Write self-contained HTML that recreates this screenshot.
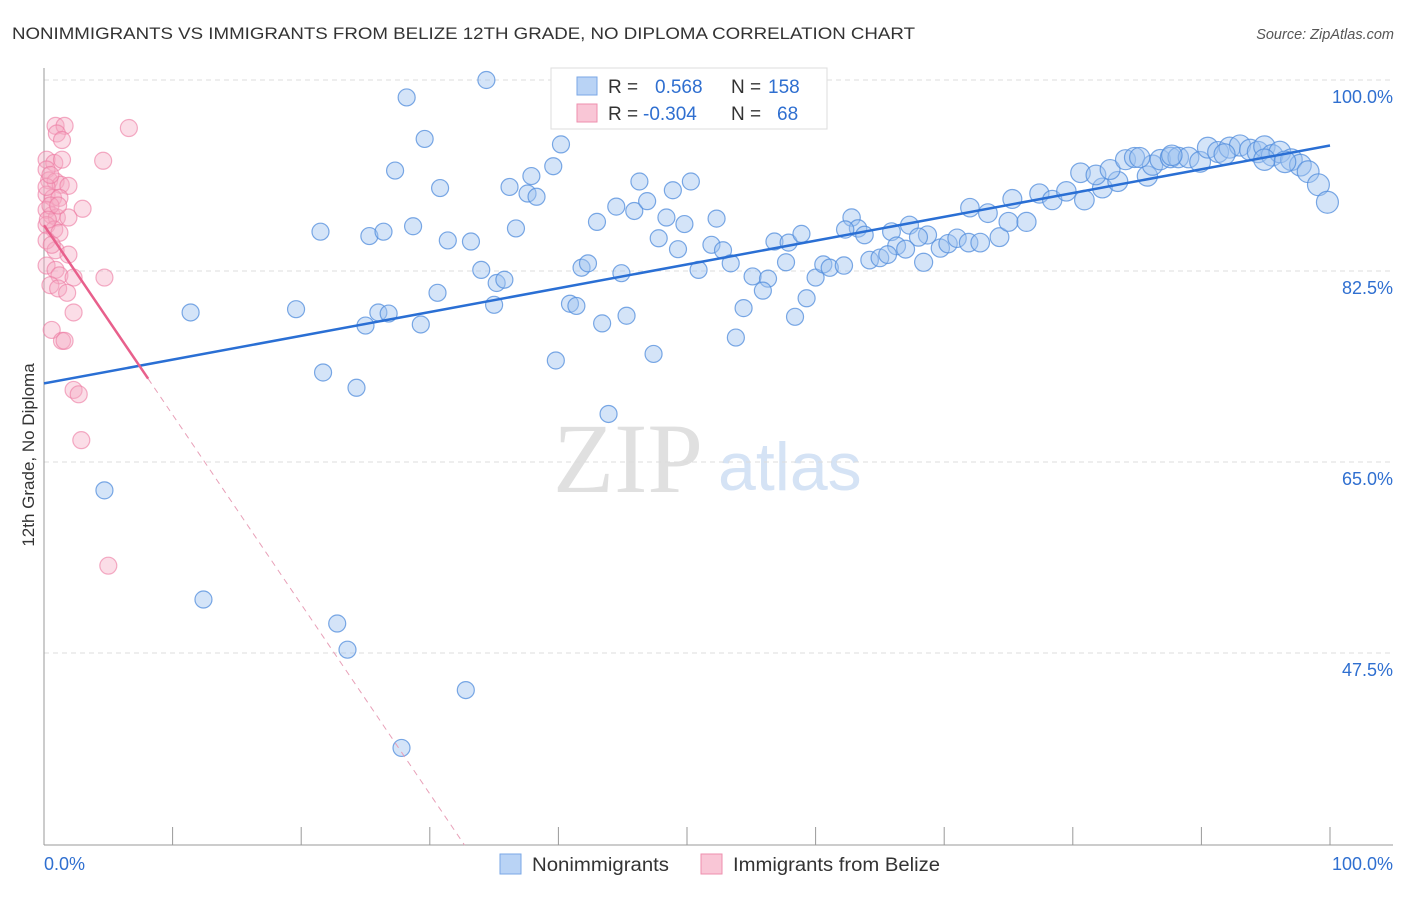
<!DOCTYPE html>
<html><head><meta charset="utf-8">
<style>
body{margin:0;background:#fff;font-family:"Liberation Sans",sans-serif;}
</style></head>
<body>
<svg id="chart" width="1406" height="892" viewBox="0 0 1406 892" font-family="Liberation Sans, sans-serif">
<text x="12" y="39" font-size="17" fill="#333" textLength="903" lengthAdjust="spacingAndGlyphs">NONIMMIGRANTS VS IMMIGRANTS FROM BELIZE 12TH GRADE, NO DIPLOMA CORRELATION CHART</text>
<text x="1394" y="39" font-size="14.5" fill="#555" font-style="italic" text-anchor="end">Source: ZipAtlas.com</text>
<text x="0" y="0" font-size="17" fill="#333" text-anchor="middle" transform="translate(34,455) rotate(-90)">12th Grade, No Diploma</text>
<g>
<text x="553" y="492" font-size="100" fill="#e0e0e0" style="font-family:'Liberation Serif',serif">ZIP</text>
<text x="718" y="490" font-size="68" fill="#d5e3f5">atlas</text>
</g>
<g id="grid"></g>
<g id="axes"></g>
<g id="pink"></g>
<g id="blue"></g>
<g id="trends"></g>
<g>
<rect x="551" y="68" width="276" height="61" fill="#fff" stroke="#ddd"/>
<rect x="577" y="77" width="20" height="18" fill="#b9d3f5" stroke="#7aa7e6"/>
<rect x="577" y="104" width="20" height="18" fill="#f9c6d6" stroke="#ee8fae"/>
<text x="608" y="93" font-size="19" fill="#333">R = <tspan fill="#2f6fd0" x="655">0.568</tspan><tspan fill="#333" x="731">N = </tspan><tspan fill="#2f6fd0" x="768">158</tspan></text>
<text x="608" y="120" font-size="19" fill="#333">R = <tspan fill="#2f6fd0" x="643">-0.304</tspan><tspan fill="#333" x="731">N = </tspan><tspan fill="#2f6fd0" x="777">68</tspan></text>
</g>
<g>
<rect x="500" y="854" width="21" height="20" fill="#b9d3f5" stroke="#7aa7e6"/>
<text x="532" y="871" font-size="19" fill="#333" textLength="137" lengthAdjust="spacingAndGlyphs">Nonimmigrants</text>
<rect x="701" y="854" width="21" height="20" fill="#f9c6d6" stroke="#ee8fae"/>
<text x="733" y="871" font-size="19" fill="#333" textLength="207" lengthAdjust="spacingAndGlyphs">Immigrants from Belize</text>
</g>
</svg>
<script>
const yTicks=[100,82.5,65,47.5];
const yTickLabels=["100.0%","82.5%","65.0%","47.5%"];
const xEndLabels=["0.0%","100.0%"];
const bluePx=[[487,80],[407,97],[425,139],[395,171],[561,144],[553,166],[440,188],[509,187],[527,193],[537,197],[531,176],[640,181],[673,190],[691,181],[616,207],[634,211],[647,201],[666,218],[685,224],[716,219],[659,238],[597,222],[516,228],[320,232],[370,236],[383,232],[413,226],[448,240],[471,242],[678,249],[712,245],[723,250],[774,241],[788,243],[802,234],[852,218],[858,228],[864,235],[892,232],[910,225],[928,235],[918,237],[897,246],[905,249],[940,248],[948,244],[957,238],[968,243],[980,243],[1000,237],[970,208],[988,213],[1008,222],[1026,222],[1013,199],[1040,193],[1052,200],[1067,191],[1085,200],[1102,188],[1118,182],[1080,173],[1096,175],[1110,170],[1126,160],[1134,157],[1148,176],[1152,165],[1160,160],[1170,157],[1178,158],[1188,157],[1200,162],[1208,148],[1218,152],[1230,148],[1240,145],[1250,150],[1258,152],[1265,147],[1272,155],[1280,152],[1292,160],[1300,165],[1308,172],[1318,185],[1328,202],[1265,160],[1285,162],[1224,154],[1172,155],[1140,158],[481,270],[497,283],[505,280],[581,268],[588,263],[621,273],[699,270],[731,263],[753,276],[768,279],[763,291],[786,262],[815,278],[823,264],[830,268],[844,266],[870,260],[880,258],[888,255],[923,262],[437,293],[494,305],[570,304],[576,306],[602,323],[627,316],[743,308],[795,317],[806,298],[736,338],[296,309],[190,313],[366,326],[378,313],[389,314],[421,324],[653,354],[556,360],[323,373],[356,388],[609,414],[104,490],[203,599],[337,624],[347,650],[466,690],[402,748],[845,230]];
const pinkPx=[[55,126],[64,126],[57,134],[62,140],[129,128],[103,161],[47,160],[54,163],[62,160],[47,170],[49,180],[55,182],[61,185],[68,186],[47,195],[53,198],[60,198],[82,209],[47,210],[52,215],[57,218],[68,218],[47,225],[54,230],[60,233],[47,240],[55,250],[68,255],[47,265],[55,270],[60,275],[74,277],[105,277],[50,285],[58,288],[67,293],[73,313],[52,330],[62,341],[65,341],[73,390],[79,394],[81,440],[108,566],[47,187],[50,205],[50,175],[58,205],[48,220],[52,245]];
const blueX=bluePx.map(p=>+((p[0]-44)/12.86).toFixed(1));
const blueY=bluePx.map(p=>+(100-(p[1]-80)/10.914).toFixed(1));
const pinkX=pinkPx.map(p=>+((p[0]-44)/12.86).toFixed(1));
const pinkY=pinkPx.map(p=>+(100-(p[1]-80)/10.914).toFixed(1));
const blueTrend=[[0,72.2],[100,94.0]];
const pinkTrend=[[0,86.7],[32.7,29.9]];
const pinkSolidEnd=8.1;

const sx=v=>44+v*12.86;
const sy=v=>80+(100-v)*10.914;
const NS="http://www.w3.org/2000/svg";
function mk(tag,attrs,parent){const e=document.createElementNS(NS,tag);for(const k in attrs)e.setAttribute(k,attrs[k]);parent.appendChild(e);return e;}
const grid=document.getElementById('grid');
yTicks.forEach((t,i)=>{
  const l=mk('line',{x1:44,x2:1393,y1:sy(t),y2:sy(t),stroke:'#ddd','stroke-dasharray':'5,4'},grid);
  
  
  const tx=mk('text',{x:1393,y:sy(t)+23,'font-size':18,fill:'#2f6fd0','text-anchor':'end'},grid);
  tx.textContent=yTickLabels[i];
  
  
});
const axes=document.getElementById('axes');
let a=mk('line',{x1:44,x2:44,y1:68,y2:845,stroke:'#999'},axes);


a=mk('line',{x1:44,x2:1393,y1:845,y2:845,stroke:'#999'},axes);


for(let i=0;i<=10;i++){
  const t=mk('line',{x1:sx(i*10),x2:sx(i*10),y1:827,y2:845,stroke:'#999'},axes);
  
  
}
let xl=mk('text',{x:44,y:870,'font-size':18,fill:'#2f6fd0'},axes);xl.textContent=xEndLabels[0];


xl=mk('text',{x:1393,y:870,'font-size':18,fill:'#2f6fd0','text-anchor':'end'},axes);xl.textContent=xEndLabels[1];



const pg=document.getElementById('pink');
pinkX.forEach((x,i)=>{
  const c=mk('circle',{cx:sx(x),cy:sy(pinkY[i]),r:8.5,fill:'rgba(246,170,195,0.4)',stroke:'rgba(236,120,160,0.6)','stroke-width':1.2},pg);
  
  
});
const bg=document.getElementById('blue');
blueX.forEach((x,i)=>{
  const r=8.5+Math.max(0,(x-60)/40)*2.5;
  const c=mk('circle',{cx:sx(x),cy:sy(blueY[i]),r:r,fill:'rgba(160,195,240,0.45)',stroke:'rgba(80,140,220,0.75)','stroke-width':1.2},bg);
  
  
});
const tg=document.getElementById('trends');
let l=mk('line',{x1:sx(blueTrend[0][0]),y1:sy(blueTrend[0][1]),x2:sx(blueTrend[1][0]),y2:sy(blueTrend[1][1]),stroke:'#2a6fd4','stroke-width':2.5},tg);


const pf=x=>pinkTrend[0][1]+(pinkTrend[1][1]-pinkTrend[0][1])*(x-pinkTrend[0][0])/(pinkTrend[1][0]-pinkTrend[0][0]);
l=mk('line',{x1:sx(0),y1:sy(pf(0)),x2:sx(pinkSolidEnd),y2:sy(pf(pinkSolidEnd)),stroke:'#e8608c','stroke-width':2.5},tg);


l=mk('line',{x1:sx(pinkSolidEnd),y1:sy(pf(pinkSolidEnd)),x2:sx(pinkTrend[1][0]),y2:sy(pinkTrend[1][1]),stroke:'#e8a0b8','stroke-width':1,'stroke-dasharray':'6,5'},tg);


</script>
</body></html>
